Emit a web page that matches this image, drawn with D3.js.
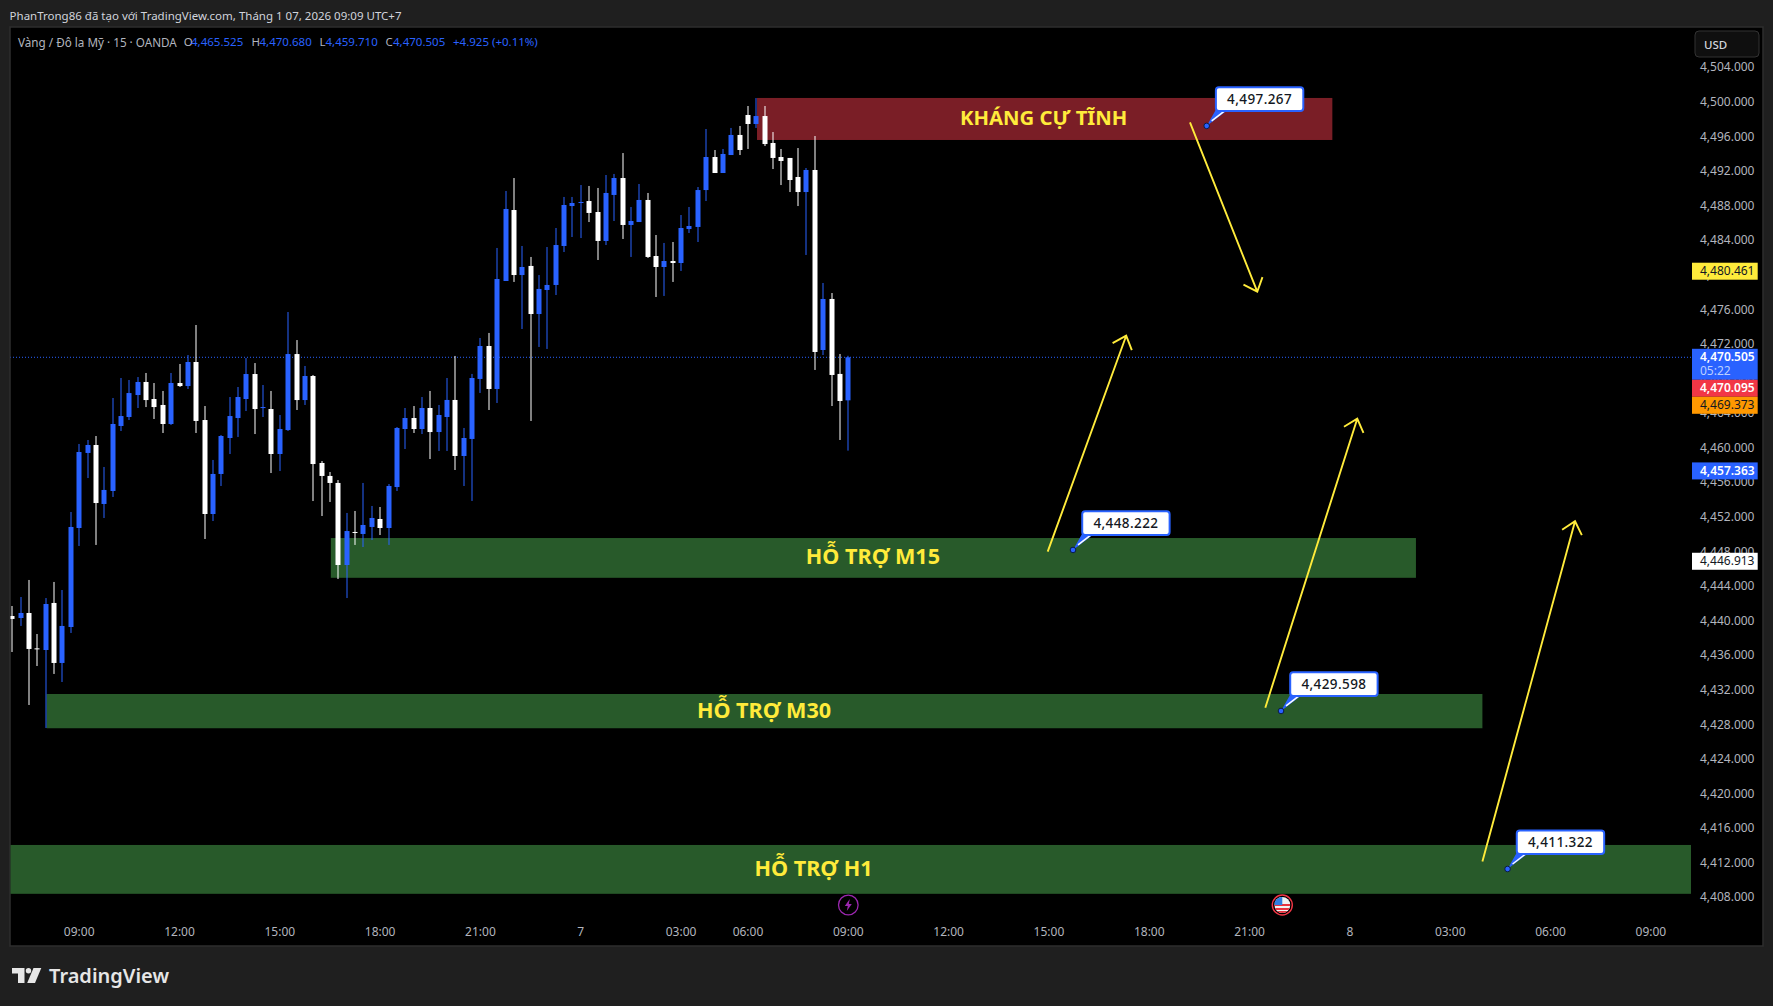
<!DOCTYPE html>
<html lang="en">
<head>
    <title>XAUUSD 15m</title>
    <meta charset="utf-8">
    <style>
        html, body { margin: 0; padding: 0; background: #1f1f1f; overflow: hidden; }
        text { font-family: "Noto Sans", sans-serif; }
        .domain { display: none; }
    </style>
    <script src="https://d3js.org/d3.v7.min.js"></script>
</head>

<body>
<div id="chart"></div>

<script>
    // bars. blue = up, white = down
    const opens = [4440.58,4440.35,4440.93,4436.84,4436.65,4442.09,4435.15,4439.31,4450.76,4459.44,4460.36,4453.54,4455.04,4462.56,4463.60,4466.14,4467.65,4465.68,4464.99,4462.79,4467.53,4467.18,4469.96,4463.25,4452.38,4457.01,4461.17,4463.48,4465.68,4468.57,4464.64,4464.52,4459.32,4462.09,4470.88,4465.56,4468.34,4458.28,4456.78,4455.97,4446.48,4450.30,4450.07,4450.88,4451.80,4450.76,4455.50,4462.21,4463.48,4462.21,4464.64,4461.86,4463.60,4465.57,4459.09,4461.06,4468.00,4471.81,4466.84,4479.33,4487.54,4480.02,4481.07,4475.51,4478.29,4478.87,4483.38,4488.00,4488.35,4488.58,4487.31,4483.96,4489.28,4491.24,4485.81,4486.15,4488.70,4482.22,4480.95,4481.64,4481.41,4485.34,4485.58,4489.85,4493.67,4491.82,4493.90,4496.22,4498.53,4497.49,4498.41,4495.29,4493.67,4493.56,4491.36,4489.62,4492.17,4471.35,4477.25,4468.58,4465.525];
    const highs = [4441.74,4442.78,4444.75,4438.50,4442.66,4444.52,4443.59,4452.61,4460.48,4460.94,4461.40,4457.82,4465.80,4468.11,4467.88,4468.22,4468.69,4467.53,4466.61,4468.69,4469.73,4470.77,4474.24,4464.87,4458.63,4461.52,4465.91,4467.07,4470.42,4469.84,4467.30,4466.61,4463.83,4475.74,4472.50,4469.50,4468.46,4458.51,4457.24,4456.31,4452.50,4452.73,4455.97,4453.31,4453.19,4455.85,4462.44,4464.64,4464.87,4465.91,4466.61,4464.99,4468.11,4470.66,4462.33,4468.58,4472.74,4473.32,4483.15,4489.74,4491.24,4483.38,4482.11,4480.02,4483.26,4485.46,4489.05,4489.05,4490.43,4490.32,4490.09,4491.59,4491.71,4494.13,4487.89,4490.55,4489.51,4484.65,4483.73,4483.84,4486.96,4487.89,4490.20,4496.91,4494.48,4494.60,4497.03,4497.26,4499.57,4500.49,4499.57,4496.56,4494.60,4493.56,4494.71,4492.40,4496.10,4479.10,4477.94,4470.89,4470.680];
    const lows = [4436.42,4439.43,4430.29,4434.80,4427.63,4433.88,4432.95,4438.62,4448.68,4456.54,4448.80,4451.92,4454.35,4461.98,4463.25,4464.64,4464.75,4463.37,4461.75,4462.67,4467.07,4466.84,4461.75,4449.49,4451.57,4455.62,4459.32,4461.29,4464.29,4461.63,4463.60,4457.12,4457.35,4461.98,4464.41,4464.99,4453.88,4452.15,4453.77,4444.86,4442.66,4448.80,4448.56,4449.37,4449.95,4448.80,4455.04,4459.90,4461.75,4461.63,4458.74,4459.67,4459.67,4457.47,4455.62,4453.89,4466.38,4464.41,4465.22,4479.33,4479.22,4473.78,4463.14,4471.70,4471.47,4477.71,4482.68,4484.42,4484.30,4486.15,4481.76,4483.49,4486.27,4484.19,4482.11,4486.15,4481.99,4477.48,4477.60,4479.22,4480.49,4484.88,4483.84,4488.58,4491.82,4491.82,4493.90,4493.90,4494.60,4497.03,4494.94,4492.28,4490.43,4489.62,4488.00,4482.34,4469.04,4470.77,4464.87,4460.94,4459.710];
    const closes = [4440.24,4440.93,4436.77,4436.77,4441.97,4435.15,4439.43,4450.88,4459.55,4460.36,4453.65,4455.16,4462.79,4463.71,4466.37,4467.65,4465.56,4464.75,4462.79,4467.53,4467.18,4469.96,4463.14,4452.38,4457.01,4461.40,4463.71,4465.91,4468.57,4464.52,4464.75,4459.32,4462.21,4470.88,4465.56,4468.34,4458.16,4456.78,4455.97,4446.48,4450.41,4450.22,4451.11,4451.92,4450.76,4455.62,4462.33,4463.48,4462.21,4464.64,4461.86,4463.83,4465.57,4459.09,4461.17,4468.11,4471.81,4466.84,4479.56,4487.66,4480.02,4480.95,4475.51,4478.41,4478.87,4483.49,4488.12,4488.35,4488.47,4487.20,4483.96,4489.51,4491.24,4485.81,4486.27,4488.70,4482.11,4480.95,4481.64,4481.41,4485.46,4485.69,4489.85,4493.67,4491.82,4494.02,4496.22,4494.48,4497.49,4498.41,4495.17,4493.56,4493.21,4491.01,4489.62,4492.17,4471.12,4477.25,4468.46,4465.45,4470.505];

    const priceTicks = d3.range(4408, 4505, 4);
    const timeBars = [8, 20, 32, 44, 56, 68, 80, 88, 100, 112, 124, 136, 148, 160, 172, 184, 196];
    const timeLabels = ["09:00", "12:00", "15:00", "18:00", "21:00", "7", "03:00", "06:00", "09:00", "12:00", "15:00", "18:00", "21:00", "8", "03:00", "06:00", "09:00"];

    // drawn rectangles
    const zoneNames = ["KHÁNG CỰ TĨNH", "HỖ TRỢ M15", "HỖ TRỢ M30", "HỖ TRỢ H1"];
    const zoneFrom = [89.08, 38.1, 4.1, -1];
    const zoneTo = [157.9, 167.9, 175.85, 200.8];
    const zoneHigh = [4500.5, 4449.6, 4431.56, 4414.1];
    const zoneLow = [4495.64, 4445.0, 4427.6, 4408.45];
    const zoneLabelBar = [123.36, 102.95, 89.92, 95.84];

    // yellow arrows
    const arrowFromBar = [140.87, 123.85, 149.88, 175.85];
    const arrowFromPrice = [4497.68, 4448.02, 4429.97, 4412.18];
    const arrowToBar = [148.92, 133.24, 160.88, 186.93];
    const arrowToPrice = [4478.09, 4473.0, 4463.4, 4451.54];

    // price note callouts
    const noteBars = [142.87, 126.88, 151.76, 178.86];
    const notePrices = [4497.267, 4448.222, 4429.598, 4411.322];

    // tags on the price scale
    const tagPrices = [4480.461, 4470.505, 4470.095, 4469.373, 4457.363, 4446.913];
    const tagFill = ["#ffeb3b", "#2962ff", "#f23645", "#ff9800", "#2962ff", "#ffffff"];
    const tagText = ["#131722", "#ffffff", "#ffffff", "#131722", "#ffffff", "#131722"];

    const width = 1773, height = 1006;
    const paneLeft = 10, paneTop = 27, paneRight = 1691, paneBottom = 946, frameRight = 1763;
    const blue = "#2962ff", white = "#ffffff", yellow = "#ffeb3b", grey = "#b2b5be";

    const fmt = d3.format(",.3f");

    const x = d3.scaleLinear().domain([0, 100]).range([12.3, 848.3]);
    const y = d3.scaleLinear().domain([4408, 4504]).range([897.7, 67.7]);

    const svg = d3.select("#chart")
        .append("svg")
        .attr("width", width)
        .attr("height", height)
        .style("display", "block");

    // frame
    svg.append("rect")
        .attr("x", paneLeft)
        .attr("y", paneTop)
        .attr("width", frameRight - paneLeft)
        .attr("height", paneBottom - paneTop)
        .attr("fill", "#000")
        .attr("stroke", "#2e2e2e")
        .attr("stroke-width", 1.5);

    svg.append("clipPath").attr("id", "pane")
        .append("rect")
        .attr("x", paneLeft + 0.5)
        .attr("y", paneTop)
        .attr("width", paneRight - paneLeft - 0.5)
        .attr("height", paneBottom - paneTop);

    const pane = svg.append("g").attr("clip-path", "url(#pane)");

    // zones go under the candles
    pane.selectAll("rect.zone")
        .data(zoneNames)
        .join("rect")
        .attr("class", "zone")
        .attr("x", (d, i) => x(zoneFrom[i]))
        .attr("y", (d, i) => y(zoneHigh[i]))
        .attr("width", (d, i) => x(zoneTo[i]) - x(zoneFrom[i]))
        .attr("height", (d, i) => y(zoneLow[i]) - y(zoneHigh[i]))
        .attr("fill", (d, i) => i === 0 ? "#7a1e26" : "#285a2a");

    // last price line
    pane.append("line")
        .attr("x1", paneLeft)
        .attr("x2", paneRight)
        .attr("y1", y(4470.505))
        .attr("y2", y(4470.505))
        .attr("stroke", blue)
        .attr("stroke-width", 1)
        .attr("stroke-dasharray", "1,2");

    // candles
    const candles = pane.selectAll("g.candle")
        .data(opens)
        .join("g")
        .attr("class", "candle")
        .attr("fill", (d, i) => closes[i] >= d ? blue : white);

    candles.append("rect")
        .attr("x", (d, i) => Math.round(x(i)) - 0.5)
        .attr("width", 1)
        .attr("y", (d, i) => y(highs[i]))
        .attr("height", (d, i) => y(lows[i]) - y(highs[i]));

    candles.append("rect")
        .attr("x", (d, i) => Math.round(x(i)) - 2.5)
        .attr("width", 5)
        .attr("y", (d, i) => y(Math.max(d, closes[i])))
        .attr("height", (d, i) => Math.max(1, Math.abs(y(d) - y(closes[i]))));

    // zone captions, the resistance one is a bit smaller
    svg.selectAll("text.zone-label")
        .data(zoneNames)
        .join("text")
        .attr("class", "zone-label")
        .attr("x", (d, i) => x(zoneLabelBar[i]))
        .attr("y", (d, i) => (y(zoneHigh[i]) + y(zoneLow[i])) / 2 - 2)
        .attr("text-anchor", "middle")
        .attr("dominant-baseline", "central")
        .attr("font-size", (d, i) => i === 0 ? 20.3 : 21.6)
        .attr("font-weight", 700)
        .attr("fill", yellow)
        .text(d => d);

    // arrows, the head is worked out from the shaft direction
    arrowFromBar.forEach((b, i) => {
        const x0 = x(b), y0 = y(arrowFromPrice[i]);
        const x1 = x(arrowToBar[i]), y1 = y(arrowToPrice[i]);
        const a = Math.atan2(y1 - y0, x1 - x0);
        const head = 15.5, spread = 0.72;
        const p = d3.path();
        p.moveTo(x0, y0);
        p.lineTo(x1, y1);
        p.moveTo(x1 - head * Math.cos(a - spread), y1 - head * Math.sin(a - spread));
        p.lineTo(x1, y1);
        p.lineTo(x1 - head * Math.cos(a + spread), y1 - head * Math.sin(a + spread));
        svg.append("path")
            .attr("d", p.toString())
            .attr("fill", "none")
            .attr("stroke", yellow)
            .attr("stroke-width", 1.9);
    });

    // callouts
    const notes = svg.selectAll("g.note")
        .data(notePrices)
        .join("g")
        .attr("class", "note")
        .attr("transform", (d, i) => `translate(${x(noteBars[i])},${y(d)})`);

    notes.append("path")
        .attr("d", "M0,0L9,-16L21,-16Z")
        .attr("fill", blue);
    notes.append("line")
        .attr("x1", 5).attr("y1", -5).attr("x2", 18).attr("y2", -15)
        .attr("stroke", white).attr("stroke-width", 1.5);
    notes.append("rect")
        .attr("x", 9.2)
        .attr("y", -38.6)
        .attr("width", 87.4)
        .attr("height", 23.6)
        .attr("rx", 3)
        .attr("fill", white)
        .attr("stroke", blue)
        .attr("stroke-width", 2);
    notes.append("text")
        .attr("x", 52.9)
        .attr("y", -27.2)
        .attr("text-anchor", "middle")
        .attr("dominant-baseline", "central")
        .attr("font-size", 13.5)
        .attr("font-weight", 500)
        .attr("letter-spacing", 0.4)
        .attr("fill", "#131722")
        .text(d => fmt(d));
    notes.append("circle")
        .attr("r", 2.8)
        .attr("fill", blue)
        .attr("stroke", "#0a1a44")
        .attr("stroke-width", 1);

    // axes
    const yAxis = svg.append("g")
        .attr("transform", `translate(${paneRight},-0.6)`)
        .call(d3.axisRight(y).tickValues(priceTicks).tickSize(0).tickPadding(9).tickFormat(fmt));
    yAxis.selectAll("text")
        .attr("font-size", 12)
        .attr("font-family", null)
        .attr("fill", grey);

    const xAxis = svg.append("g")
        .attr("transform", "translate(-0.5,927.5)")
        .call(d3.axisBottom(x).tickValues(timeBars).tickSize(0).tickPadding(0)
            .tickFormat((d, i) => timeLabels[i]));
    xAxis.selectAll("text")
        .attr("font-size", 12)
        .attr("font-family", null)
        .attr("fill", grey);

    // price tags, stacked so they do not overlap
    let tagBottom = -Infinity;
    tagPrices.forEach((p, i) => {
        const h = i === 1 ? 31 : 17;
        const top = Math.max(y(p) - 8.5, tagBottom);
        tagBottom = top + h;
        svg.append("rect")
            .attr("x", 1692)
            .attr("y", top)
            .attr("width", 65.7)
            .attr("height", h)
            .attr("fill", tagFill[i]);
        svg.append("text")
            .attr("x", 1700)
            .attr("y", top + 8)
            .attr("dominant-baseline", "central")
            .attr("font-size", 12)
            .attr("font-weight", tagFill[i] === blue || tagFill[i] === "#f23645" ? 600 : 400)
            .attr("fill", tagText[i])
            .text(fmt(p));
        if (i === 1) {
            svg.append("text")
                .attr("x", 1700)
                .attr("y", top + 22)
                .attr("dominant-baseline", "central")
                .attr("font-size", 12)
                .attr("fill", "#bcd0ff")
                .text("05:22");
        }
    });

    // currency button
    svg.append("rect")
        .attr("x", 1695).attr("y", 31)
        .attr("width", 64).attr("height", 26)
        .attr("rx", 4)
        .attr("fill", "#0f0f0f")
        .attr("stroke", "#333")
        .attr("stroke-width", 1);
    svg.append("text")
        .attr("x", 1704).attr("y", 44)
        .attr("dominant-baseline", "central")
        .attr("font-size", 11.5)
        .attr("font-weight", 500)
        .attr("fill", "#d1d4dc")
        .text("USD");

    // header and legend
    svg.append("text")
        .attr("x", 9.6).attr("y", 15)
        .attr("dominant-baseline", "central")
        .attr("font-size", 11.5)
        .attr("fill", "#d1d4dc")
        .text("PhanTrong86 đã tạo với TradingView.com, Tháng 1 07, 2026 09:09 UTC+7");

    const legendParts = [
        ["Vàng / Đô la Mỹ · 15 · OANDA", 18, grey, 11.7],
        ["O", 183.7, grey, 11.5], ["4,465.525", 191, blue, 11.5],
        ["H", 251.4, grey, 11.5], ["4,470.680", 259.5, blue, 11.5],
        ["L", 319.5, grey, 11.5], ["4,459.710", 325.5, blue, 11.5],
        ["C", 385.4, grey, 11.5], ["4,470.505", 393, blue, 11.5],
        ["+4.925 (+0.11%)", 453, blue, 11.5]
    ];
    svg.selectAll("text.legend")
        .data(legendParts)
        .join("text")
        .attr("class", "legend")
        .attr("x", d => d[1])
        .attr("y", 41.7)
        .attr("dominant-baseline", "central")
        .attr("font-size", d => d[3])
        .attr("fill", d => d[2])
        .text(d => d[0]);

    // event markers
    const purple = "#9c27b0";
    const flash = svg.append("g").attr("transform", `translate(${x(100)},905)`);
    flash.append("circle").attr("r", 9.8).attr("fill", "none").attr("stroke", purple).attr("stroke-width", 1.3);
    flash.append("path").attr("d", "M1.5,-6L-3.5,1L-0.5,1L-1.5,6L3.5,-1L0.5,-1Z").attr("fill", purple);

    const flag = svg.append("g").attr("transform", "translate(1282.3,905)");
    svg.append("clipPath").attr("id", "flag-clip").append("circle").attr("r", 8);
    flag.append("circle").attr("r", 10).attr("fill", "none").attr("stroke", "#f23645").attr("stroke-width", 1.4);
    const flagInner = flag.append("g").attr("clip-path", "url(#flag-clip)");
    flagInner.append("rect").attr("x", -8).attr("y", -8).attr("width", 16).attr("height", 16).attr("fill", "#f2f2f2");
    flagInner.selectAll("rect.stripe")
        .data([-1, 3, 6])
        .join("rect")
        .attr("class", "stripe")
        .attr("x", -8).attr("y", d => d).attr("width", 16).attr("height", 2)
        .attr("fill", "#e8333f");
    flagInner.append("rect").attr("x", -8).attr("y", -8).attr("width", 8).attr("height", 8).attr("fill", "#2f7de1");

    // logo
    const logo = svg.append("g").attr("fill", "#e6e6e6");
    logo.append("path").attr("d", "M12,968H24.5V983H18V973.5H12Z");
    logo.append("circle").attr("cx", 28.5).attr("cy", 970.7).attr("r", 2.7);
    logo.append("path").attr("d", "M33.5,968H41.3L35,983H27.2Z");
    svg.append("text")
        .attr("x", 49).attr("y", 983)
        .attr("font-size", 20)
        .attr("font-weight", 600)
        .attr("fill", "#e6e6e6")
        .text("TradingView");
</script>
</body>
</html>
